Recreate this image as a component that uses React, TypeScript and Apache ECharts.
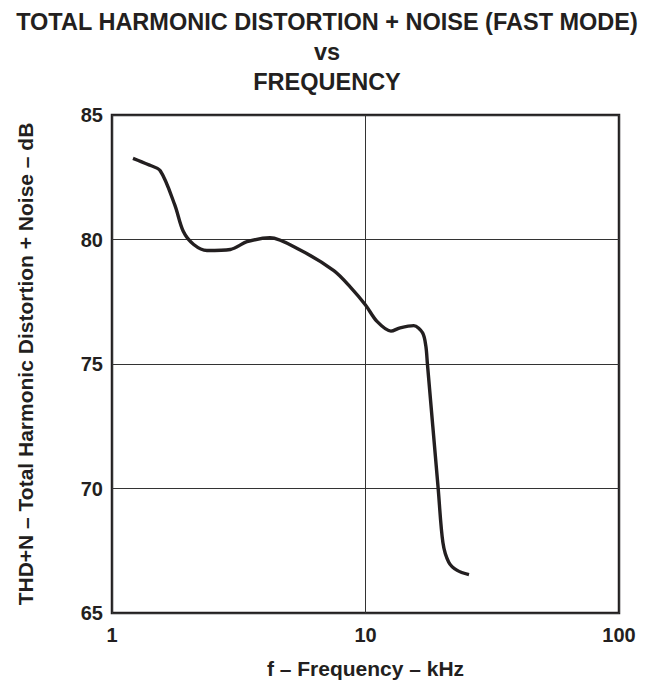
import React, { useEffect, useRef } from "react";
import * as echarts from "echarts";

const titleLines = ["TOTAL HARMONIC DISTORTION + NOISE (FAST MODE)", "vs", "FREQUENCY"];
const xAxisName = "f – Frequency – kHz";
const yAxisName = "THD+N – Total Harmonic Distortion + Noise – dB";

const freqKHz = [1.21, 1.38, 1.55, 1.77, 1.91, 2.1, 2.37, 2.93, 3.41, 4.2, 5.5, 7.5, 8.7, 10, 11.1, 12.6, 13.7, 15.5, 16.8, 17.3, 17.55, 19.35, 20.2, 21.3, 23.0, 25.6];
const thdDb = [83.26, 83.02, 82.76, 81.38, 80.33, 79.8, 79.56, 79.6, 79.91, 80.07, 79.59, 78.75, 78.1, 77.37, 76.71, 76.32, 76.45, 76.54, 76.25, 75.72, 75.0, 70.0, 67.83, 67.04, 66.71, 66.54];

const yMin = 65;
const yMax = 85;
const yStep = 5;
const xMin = 1;
const xMax = 100;

const FONT = "'Liberation Sans', Arial, Helvetica, sans-serif";
const INK = "#231f20";

export default function App() {
  const ref = useRef<HTMLDivElement>(null);
  useEffect(() => {
    if (!ref.current) return;
    const chart = echarts.init(ref.current, undefined, { renderer: "svg" });
    const data = freqKHz.map((f, i) => [f, thdDb[i]]);
    chart.setOption({
      animation: false,
      backgroundColor: "#ffffff",
      graphic: titleLines.map((t, i) => ({
        type: "text",
        x: 327,
        y: 22 + i * 30,
        style: {
          text: t,
          fill: INK,
          font: `bold 23.5px ${FONT}`,
          textAlign: "center",
          textVerticalAlign: "middle",
        },
      })),
      grid: {
        left: 112,
        right: 28,
        top: 115,
        bottom: 64,
        show: true,
        borderColor: INK,
        borderWidth: 2.5,
        backgroundColor: "transparent",
      },
      xAxis: {
        type: "log",
        logBase: 10,
        min: xMin,
        max: xMax,
        name: xAxisName,
        nameLocation: "middle",
        nameGap: 45,
        nameTextStyle: { fontFamily: FONT, fontWeight: "bold", fontSize: 21, color: INK },
        axisLine: { show: false },
        axisTick: { show: false },
        minorTick: { show: false },
        axisLabel: { fontFamily: FONT, fontWeight: "bold", fontSize: 20, color: INK, margin: 12 },
        splitLine: { show: true, lineStyle: { color: "#333", width: 1 } },
      },
      yAxis: {
        type: "value",
        min: yMin,
        max: yMax,
        interval: yStep,
        name: yAxisName,
        nameLocation: "middle",
        nameRotate: 90,
        nameGap: 76,
        nameTextStyle: { fontFamily: FONT, fontWeight: "bold", fontSize: 21, color: INK },
        axisLine: { show: false },
        axisTick: { show: false },
        axisLabel: { fontFamily: FONT, fontWeight: "bold", fontSize: 20, color: INK, margin: 9 },
        splitLine: { show: true, lineStyle: { color: "#333", width: 1 } },
      },
      series: [
        {
          type: "line",
          data,
          smooth: 0.3,
          showSymbol: false,
          symbol: "none",
          lineStyle: { color: INK, width: 3.4 },
          z: 5,
        },
      ],
    });
    return () => chart.dispose();
  }, []);
  return <div ref={ref} style={{ width: 647, height: 684, position: "absolute", left: 0, top: 0 }} />;
}
